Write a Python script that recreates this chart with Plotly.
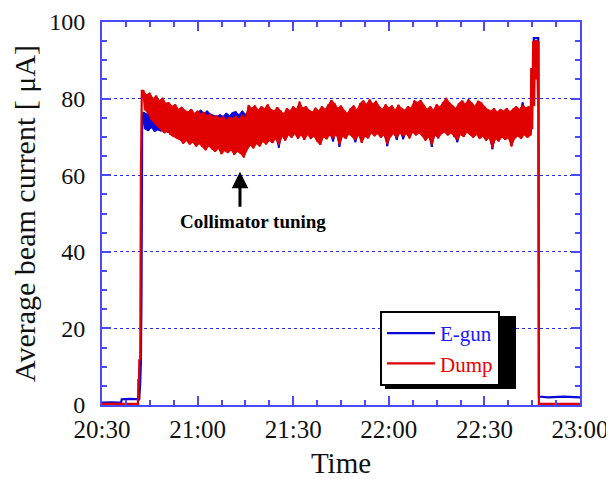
import plotly.graph_objects as go

# ---- time axis: minutes after 20:30 ----
tick_minutes = [0, 30, 60, 90, 120, 150]
tick_labels = ["20:30", "21:00", "21:30", "22:00", "22:30", "23:00"]
y_ticks = [0, 20, 40, 60, 80, 100]

# beam-on period, one sample pair (upper / lower excursion) per minute
beam_minutes = list(range(13, 135))

dump_hi = [
    82.0, 81.0, 81.5, 80.0, 80.8, 79.5, 80.2, 78.8, 79.0, 78.0,
    78.5, 77.2, 77.8, 77.0, 76.5, 77.3, 76.2, 76.8, 76.0, 76.5,
    75.5, 76.0, 75.2, 75.6, 74.8, 75.3, 74.5, 75.2, 74.8, 75.5,
    74.6, 75.8, 75.0, 78.3, 77.5, 78.2, 77.0, 78.0, 77.4, 78.5,
    77.2, 76.8, 77.8, 77.0, 76.0, 77.5, 76.8, 78.0, 77.2, 79.2,
    77.5, 78.0, 77.0, 76.5, 77.6, 76.8, 78.0, 77.2, 78.5, 79.6,
    78.8, 77.5, 78.2, 77.0, 76.2, 77.5, 78.2, 77.0, 78.8, 79.5,
    78.5, 79.8, 78.6, 79.4, 78.0, 77.2, 78.5, 77.6, 78.2, 77.0,
    78.4, 77.5, 77.0, 78.0, 77.5, 79.5, 79.0, 79.6, 78.4, 77.2,
    78.0, 77.0, 78.5, 77.8, 79.0, 80.2, 79.0, 78.2, 77.5, 78.8,
    79.5, 78.6, 79.8, 79.0, 78.0, 79.4, 79.0, 78.0, 77.2, 76.8,
    77.5, 76.5, 77.2, 76.8, 77.5, 76.6, 77.4, 78.0, 77.2, 78.3,
    77.6, 78.0,
]
dump_lo = [
    77.0, 76.0, 74.5, 73.5, 72.8, 71.8, 71.0, 71.5, 70.5, 70.0,
    69.6, 69.2, 68.2, 69.0, 68.0, 68.6, 67.5, 68.2, 67.4, 66.5,
    67.6, 66.8, 66.1, 67.0, 65.5, 66.4, 65.8, 66.6, 65.3, 66.2,
    65.6, 64.6, 66.5, 67.8, 67.0, 68.2, 67.5, 68.8, 68.0, 69.0,
    68.4, 69.5, 67.9, 70.2, 69.0, 70.5, 69.8, 70.8, 69.5, 70.5,
    69.2, 70.6, 69.5, 70.2, 68.8, 67.9, 70.0, 69.4, 70.5, 69.6,
    70.8, 68.0, 70.2, 69.5, 70.8, 70.0, 69.2, 70.5, 68.4, 70.2,
    69.6, 71.0, 70.2, 70.8, 69.8, 70.5, 68.2, 70.0, 70.8, 69.8,
    71.0, 70.2, 70.8, 69.6, 71.2, 70.4, 71.0, 70.2, 69.0, 70.0,
    68.0, 70.5, 69.6, 70.8, 71.2, 70.4, 71.0, 70.0, 69.2, 70.6,
    70.0, 71.2, 70.5, 69.8, 70.6, 69.5, 70.2, 69.0, 69.8, 67.2,
    69.5, 68.8, 70.0, 69.2, 69.8, 67.5, 69.6, 70.2, 69.5, 70.5,
    69.8, 70.4,
]
egun_hi = [
    76.5, 76.0, 75.5, 76.2, 75.0, 75.6, 74.8, 75.4, 75.0, 75.5,
    75.2, 75.8, 75.0, 76.0, 75.5, 76.2, 75.8, 76.5, 77.0, 76.2,
    76.8, 76.0, 75.6, 75.3, 75.8, 75.4, 76.2, 75.6, 76.4, 76.6,
    75.8, 76.8, 76.0, 76.5, 76.8, 77.0, 76.2, 77.0, 76.5, 77.2,
    76.4, 76.0, 76.8, 76.2, 75.5, 76.6, 76.0, 77.0, 76.4, 78.0,
    76.8, 77.0, 76.2, 75.8, 76.8, 76.0, 77.0, 76.5, 77.5, 78.4,
    77.8, 76.8, 77.2, 76.2, 75.6, 76.6, 77.2, 76.2, 77.8, 78.4,
    77.6, 78.6, 77.8, 78.4, 77.2, 76.4, 77.5, 76.8, 77.2, 76.2,
    77.4, 76.6, 76.2, 77.0, 76.6, 78.4, 78.0, 78.5, 77.4, 76.4,
    77.0, 76.2, 77.5, 76.8, 78.0, 79.0, 78.0, 77.2, 76.6, 77.8,
    78.4, 77.6, 78.6, 78.0, 77.0, 78.2, 78.0, 77.0, 76.4, 76.0,
    76.6, 75.8, 76.4, 76.0, 76.6, 75.8, 76.5, 77.2, 76.4, 79.0,
    76.8, 77.0,
]
egun_lo = [
    72.0, 71.6, 72.4, 71.4, 71.8, 71.5, 72.0, 71.2, 71.6, 71.0,
    71.4, 71.0, 71.5, 70.8, 71.2, 71.6, 71.0, 71.5, 71.2, 71.8,
    71.4, 71.0, 71.6, 71.2, 71.8, 71.4, 71.0, 71.5, 71.2, 71.8,
    71.4, 71.0, 71.5, 68.4, 67.6, 68.8, 68.0, 69.2, 68.6, 69.4,
    68.8, 69.9, 67.2, 70.6, 69.4, 70.9, 70.2, 71.2, 69.9, 70.9,
    69.6, 71.0, 69.9, 70.6, 69.2, 68.3, 70.4, 69.8, 70.9, 68.8,
    71.2, 67.4, 70.6, 69.9, 71.2, 70.4, 68.6, 70.9, 68.8, 70.6,
    70.0, 71.4, 70.6, 71.2, 70.2, 70.9, 67.6, 70.4, 71.2, 69.2,
    71.4, 69.4, 71.2, 70.0, 71.6, 70.8, 71.4, 70.6, 69.4, 70.4,
    67.4, 70.9, 70.0, 71.2, 71.6, 70.8, 71.4, 70.4, 68.6, 71.0,
    70.4, 71.6, 70.9, 70.2, 71.0, 69.9, 70.6, 69.4, 70.2, 66.8,
    69.9, 69.2, 70.4, 69.6, 70.2, 67.8, 70.0, 70.6, 69.9, 70.9,
    70.2, 70.8,
]

# beam-off / ramp segments
egun_pre_t = [0, 3, 6.0, 6.2, 9, 11.7, 12.0, 12.2, 12.4, 12.6]
egun_pre_v = [0.6, 0.7, 0.6, 1.5, 1.6, 1.5, 6.0, 11.0, 29.0, 73.0]
dump_pre_t = [0, 6, 11.3, 11.4, 11.6, 11.7, 12.0, 12.2, 12.5]
dump_pre_v = [0.3, 0.3, 0.3, 6.5, 6.5, 11.7, 12.0, 60.0, 82.0]

egun_post_t = [134.8, 135.2, 135.5, 136.9, 137.1, 140, 145, 150]
egun_post_v = [75.0, 83.0, 95.8, 95.8, 2.2, 2.0, 2.2, 2.0]
dump_post_t = [134.7, 135.0, 135.3, 135.6, 135.9, 136.2, 136.5, 136.8, 137.0, 137.1, 150]
dump_post_v = [88.0, 72.0, 95.0, 78.0, 95.3, 85.0, 95.3, 80.0, 95.0, 0.3, 0.3]


def build(pre_t, pre_v, hi, lo, post_t, post_v):
    xs, ys = list(pre_t), list(pre_v)
    for m, h, l in zip(beam_minutes, hi, lo):
        xs += [m, m + 0.5]
        ys += [h, l]
    xs += post_t
    ys += post_v
    return xs, ys


def band(hi, lo):
    xs = list(beam_minutes) + [m + 0.5 for m in beam_minutes][::-1]
    ys = list(hi) + list(lo)[::-1]
    return xs, ys


ex, ey = build(egun_pre_t, egun_pre_v, egun_hi, egun_lo, egun_post_t, egun_post_v)
dx, dy = build(dump_pre_t, dump_pre_v, dump_hi, dump_lo, dump_post_t, dump_post_v)
ebx, eby = band(egun_hi, egun_lo)
dbx, dby = band(dump_hi, dump_lo)

BLUE = "#0a0ad8"
RED = "#e00000"
AXIS = "#4a4aff"
FONT = "Liberation Serif"

fig = go.Figure()
fig.add_trace(go.Scatter(x=ebx, y=eby, mode="lines", fill="toself", fillcolor=BLUE,
                         line=dict(color=BLUE, width=1), showlegend=False, hoverinfo="skip"))
fig.add_trace(go.Scatter(x=ex, y=ey, mode="lines", line=dict(color=BLUE, width=2.2),
                         name='<span style="color:#1a1aff">E-gun</span>'))
fig.add_trace(go.Scatter(x=dbx, y=dby, mode="lines", fill="toself", fillcolor=RED,
                         line=dict(color=RED, width=1), showlegend=False, hoverinfo="skip"))
fig.add_trace(go.Scatter(x=dx, y=dy, mode="lines", line=dict(color=RED, width=2.2),
                         name='<span style="color:#ee0000">Dump</span>'))

# page adds an 8 px body margin, so the figure is 606x471 and offset by 8 px
fig.update_layout(
    width=606, height=471,
    margin=dict(l=94, r=34, t=14, b=74),
    paper_bgcolor="white", plot_bgcolor="white",
    font=dict(family=FONT, size=24, color="#111"),
    showlegend=True,
    legend=dict(x=0.5816, y=0.2454, xanchor="left", yanchor="top",
                bgcolor="white", bordercolor="black", borderwidth=2,
                font=dict(size=21, family=FONT), itemwidth=48,
                tracegroupgap=0),
)

fig.update_xaxes(
    range=[0, 150], tickvals=tick_minutes, ticktext=tick_labels,
    showline=True, linecolor=AXIS, linewidth=2, mirror="allticks",
    ticks="inside", ticklen=9, tickwidth=2, tickcolor=AXIS,
    minor=dict(dtick=7.5, ticks="inside", ticklen=5, tickwidth=2, tickcolor=AXIS),
    showgrid=False, zeroline=False, automargin=False,
    tickfont=dict(size=25, family=FONT, color="#111"),
    ticklabelstandoff=1,
    title=dict(text="Time", font=dict(size=29, family=FONT, color="#111"), standoff=18),
)
fig.update_yaxes(
    range=[0, 100], tickvals=y_ticks,
    showline=True, linecolor=AXIS, linewidth=2, mirror="allticks",
    ticks="inside", ticklen=9, tickwidth=2, tickcolor=AXIS,
    minor=dict(dtick=5, ticks="inside", ticklen=5, tickwidth=2, tickcolor=AXIS),
    showgrid=True, gridcolor="#2a2aff", gridwidth=1, griddash="3px,3px",
    zeroline=False, automargin=False,
    tickfont=dict(size=24, family=FONT, color="#111"),
    ticklabelstandoff=10,
    title=dict(text="Average beam current [ μA]", font=dict(size=30, family=FONT, color="#111"),
               standoff=17),
)

# legend drop shadow (plot area spans page pixels x 102..580, y 22..405)
fig.add_shape(type="rect", xref="paper", yref="paper",
              x0=(385 - 102) / 478, x1=(516 - 102) / 478,
              y0=(405 - 389) / 383, y1=(405 - 316) / 383,
              fillcolor="black", line=dict(width=0), layer="above")

# annotation
fig.add_annotation(x=43.3, y=60.9, ax=43.3, ay=51.4, xref="x", yref="y", axref="x", ayref="y",
                   text="", showarrow=True, arrowhead=2, arrowsize=1.1, arrowwidth=3,
                   arrowcolor="black")
fig.add_annotation(x=47.3, y=47.8, xref="x", yref="y", text="<b>Collimator tuning</b>",
                   showarrow=False, font=dict(size=19, family=FONT, color="black"))

fig.write_html("out.html")
